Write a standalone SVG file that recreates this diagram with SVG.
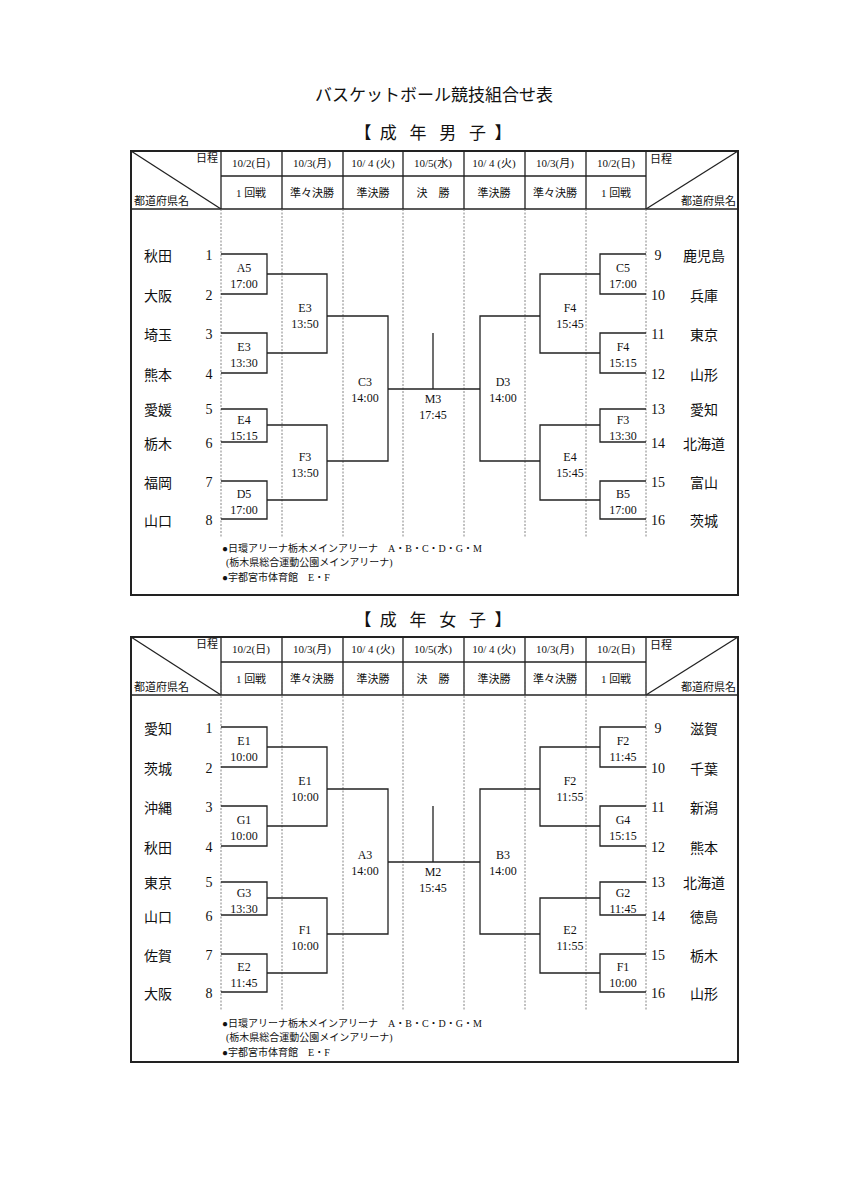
<svg xmlns="http://www.w3.org/2000/svg" xmlns:xlink="http://www.w3.org/1999/xlink" width="848" height="1200" viewBox="0 0 848 1200">
<style>
text{font-family:"Liberation Serif","Noto Sans CJK JP",serif;fill:#111}
.t{font-size:17px;text-anchor:middle}
.h{font-size:11px;text-anchor:middle}
.s{font-size:11px}
.tm{font-size:14px;text-anchor:middle}
.n{font-size:14px;text-anchor:middle}
.b{font-size:12px;text-anchor:middle}
.note{font-size:10px}
.ln{fill:none;stroke:#222;stroke-width:1.3}
.ob{fill:none;stroke:#222;stroke-width:2}
.dot{stroke:#666;stroke-width:0.8;stroke-dasharray:2 1.5}
</style>
<defs>
<g id="hdr">
<line class="ln" x1="131" y1="209" x2="738" y2="209"/>
<line class="ln" x1="221" y1="176" x2="646" y2="176"/>
<path class="ln" d="M221,151V209M282,151V209M343,151V209M403,151V209M464,151V209M525,151V209M586,151V209M646,151V209"/>
<line class="ln" x1="131" y1="151" x2="221" y2="209"/>
<line class="ln" x1="646" y1="209" x2="738" y2="151"/>
<text class="s" x="196" y="162">日程</text>
<text class="s" x="134" y="205">都道府県名</text>
<text class="s" x="650" y="163">日程</text>
<text class="s" x="736" y="205" text-anchor="end">都道府県名</text>
<text class="h" x="251" y="167">10/2(日)</text>
<text class="h" x="312" y="167">10/3(月)</text>
<text class="h" x="373" y="167">10/ 4 (火)</text>
<text class="h" x="433" y="167">10/5(水)</text>
<text class="h" x="494" y="167">10/ 4 (火)</text>
<text class="h" x="555" y="167">10/3(月)</text>
<text class="h" x="616" y="167">10/2(日)</text>
<text class="h" x="251" y="197">1 回戦</text>
<text class="h" x="312" y="197">準々決勝</text>
<text class="h" x="373" y="197">準決勝</text>
<text class="h" x="433" y="197">決　勝</text>
<text class="h" x="494" y="197">準決勝</text>
<text class="h" x="555" y="197">準々決勝</text>
<text class="h" x="616" y="197">1 回戦</text>
</g>
<g id="dots">
<path class="dot" d="M221,209V538M282,209V538M343,209V538M403,209V538M464,209V538M525,209V538M586,209V538M646,209V538"/>
</g>
<g id="notes">
<text class="note" x="222" y="552">●日環アリーナ栃木メインアリーナ　A・B・C・D・G・M</text>
<text class="note" x="226" y="566">(栃木県総合運動公園メインアリーナ)</text>
<text class="note" x="222" y="581">●宇都宮市体育館　E・F</text>
</g>
<g id="nums">
<text class="n" x="209" y="260">1</text><text class="n" x="209" y="300">2</text><text class="n" x="209" y="339">3</text><text class="n" x="209" y="379">4</text>
<text class="n" x="209" y="414">5</text><text class="n" x="209" y="448">6</text><text class="n" x="209" y="487">7</text><text class="n" x="209" y="525">8</text>
<text class="n" x="658" y="260">9</text><text class="n" x="658" y="300">10</text><text class="n" x="658" y="339">11</text><text class="n" x="658" y="379">12</text>
<text class="n" x="658" y="414">13</text><text class="n" x="658" y="448">14</text><text class="n" x="658" y="487">15</text><text class="n" x="658" y="525">16</text>
</g>
</defs>

<text class="t" x="434" y="101">バスケットボール競技組合せ表</text>

<g id="men">
<text class="t" x="433" y="139" xml:space="preserve">【  成   年   男   子  】</text>
<rect class="ob" x="131" y="151" width="607" height="444"/>
<use xlink:href="#hdr"/>
<use xlink:href="#dots"/>
<use xlink:href="#notes"/>
<use xlink:href="#nums"/>
<g id="men-teams">
<text class="tm" x="158" y="261">秋田</text><text class="tm" x="158" y="301">大阪</text><text class="tm" x="158" y="340">埼玉</text><text class="tm" x="158" y="380">熊本</text>
<text class="tm" x="158" y="415">愛媛</text><text class="tm" x="158" y="449">栃木</text><text class="tm" x="158" y="488">福岡</text><text class="tm" x="158" y="526">山口</text>
<text class="tm" x="704" y="261">鹿児島</text><text class="tm" x="704" y="301">兵庫</text><text class="tm" x="704" y="340">東京</text><text class="tm" x="704" y="380">山形</text>
<text class="tm" x="704" y="415">愛知</text><text class="tm" x="704" y="449">北海道</text><text class="tm" x="704" y="488">富山</text><text class="tm" x="704" y="526">茨城</text>
</g>
<g id="men-matches">
<text class="b" x="244" y="272">A5</text><text class="b" x="244" y="288">17:00</text>
<text class="b" x="244" y="351">E3</text><text class="b" x="244" y="367">13:30</text>
<text class="b" x="244" y="424">E4</text><text class="b" x="244" y="440">15:15</text>
<text class="b" x="244" y="498">D5</text><text class="b" x="244" y="514">17:00</text>
<text class="b" x="305" y="312">E3</text><text class="b" x="305" y="328">13:50</text>
<text class="b" x="305" y="461">F3</text><text class="b" x="305" y="477">13:50</text>
<text class="b" x="365" y="386">C3</text><text class="b" x="365" y="402">14:00</text>
<text class="b" x="433" y="403">M3</text><text class="b" x="433" y="419">17:45</text>
<text class="b" x="503" y="386">D3</text><text class="b" x="503" y="402">14:00</text>
<text class="b" x="570" y="312">F4</text><text class="b" x="570" y="328">15:45</text>
<text class="b" x="570" y="461">E4</text><text class="b" x="570" y="477">15:45</text>
<text class="b" x="623" y="272">C5</text><text class="b" x="623" y="288">17:00</text>
<text class="b" x="623" y="351">F4</text><text class="b" x="623" y="367">15:15</text>
<text class="b" x="623" y="424">F3</text><text class="b" x="623" y="440">13:30</text>
<text class="b" x="623" y="498">B5</text><text class="b" x="623" y="514">17:00</text>
</g>
</g>

<g id="women">
<text class="t" x="433" y="626" xml:space="preserve">【  成   年   女   子  】</text>
<rect class="ob" x="131" y="637" width="607" height="425"/>
<use xlink:href="#hdr" transform="translate(0,486)"/>
<g transform="translate(0,473)">
<use xlink:href="#dots"/>
<use xlink:href="#nums"/>
</g>
<use xlink:href="#notes" transform="translate(0,475)"/>
<g id="women-teams" transform="translate(0,473)">
<text class="tm" x="158" y="261">愛知</text><text class="tm" x="158" y="301">茨城</text><text class="tm" x="158" y="340">沖縄</text><text class="tm" x="158" y="380">秋田</text>
<text class="tm" x="158" y="415">東京</text><text class="tm" x="158" y="449">山口</text><text class="tm" x="158" y="488">佐賀</text><text class="tm" x="158" y="526">大阪</text>
<text class="tm" x="704" y="261">滋賀</text><text class="tm" x="704" y="301">千葉</text><text class="tm" x="704" y="340">新潟</text><text class="tm" x="704" y="380">熊本</text>
<text class="tm" x="704" y="415">北海道</text><text class="tm" x="704" y="449">徳島</text><text class="tm" x="704" y="488">栃木</text><text class="tm" x="704" y="526">山形</text>
</g>
<g id="women-matches" transform="translate(0,473)">
<text class="b" x="244" y="272">E1</text><text class="b" x="244" y="288">10:00</text>
<text class="b" x="244" y="351">G1</text><text class="b" x="244" y="367">10:00</text>
<text class="b" x="244" y="424">G3</text><text class="b" x="244" y="440">13:30</text>
<text class="b" x="244" y="498">E2</text><text class="b" x="244" y="514">11:45</text>
<text class="b" x="305" y="312">E1</text><text class="b" x="305" y="328">10:00</text>
<text class="b" x="305" y="461">F1</text><text class="b" x="305" y="477">10:00</text>
<text class="b" x="365" y="386">A3</text><text class="b" x="365" y="402">14:00</text>
<text class="b" x="433" y="403">M2</text><text class="b" x="433" y="419">15:45</text>
<text class="b" x="503" y="386">B3</text><text class="b" x="503" y="402">14:00</text>
<text class="b" x="570" y="312">F2</text><text class="b" x="570" y="328">11:55</text>
<text class="b" x="570" y="461">E2</text><text class="b" x="570" y="477">11:55</text>
<text class="b" x="623" y="272">F2</text><text class="b" x="623" y="288">11:45</text>
<text class="b" x="623" y="351">G4</text><text class="b" x="623" y="367">15:15</text>
<text class="b" x="623" y="424">G2</text><text class="b" x="623" y="440">11:45</text>
<text class="b" x="623" y="498">F1</text><text class="b" x="623" y="514">10:00</text>
</g>
</g>

<g id="connectors">
<g id="bracket">
<path class="ln" d="M221,254H267V294H221M221,333H267V373H221M221,409H267V442H221M221,481H267V519H221"/>
<path class="ln" d="M267,274H327V353H267M267,425H327V500H267"/>
<path class="ln" d="M327,316H388V461H327M388,389H480M433,333V389"/>
<path class="ln" d="M646,254H600V294H646M646,333H600V373H646M646,409H600V442H646M646,481H600V519H646"/>
<path class="ln" d="M600,274H540V353H600M600,425H540V500H600"/>
<path class="ln" d="M540,316H480V461H540"/>
</g>
<use xlink:href="#bracket" transform="translate(0,473)"/>
</g>
</svg>
